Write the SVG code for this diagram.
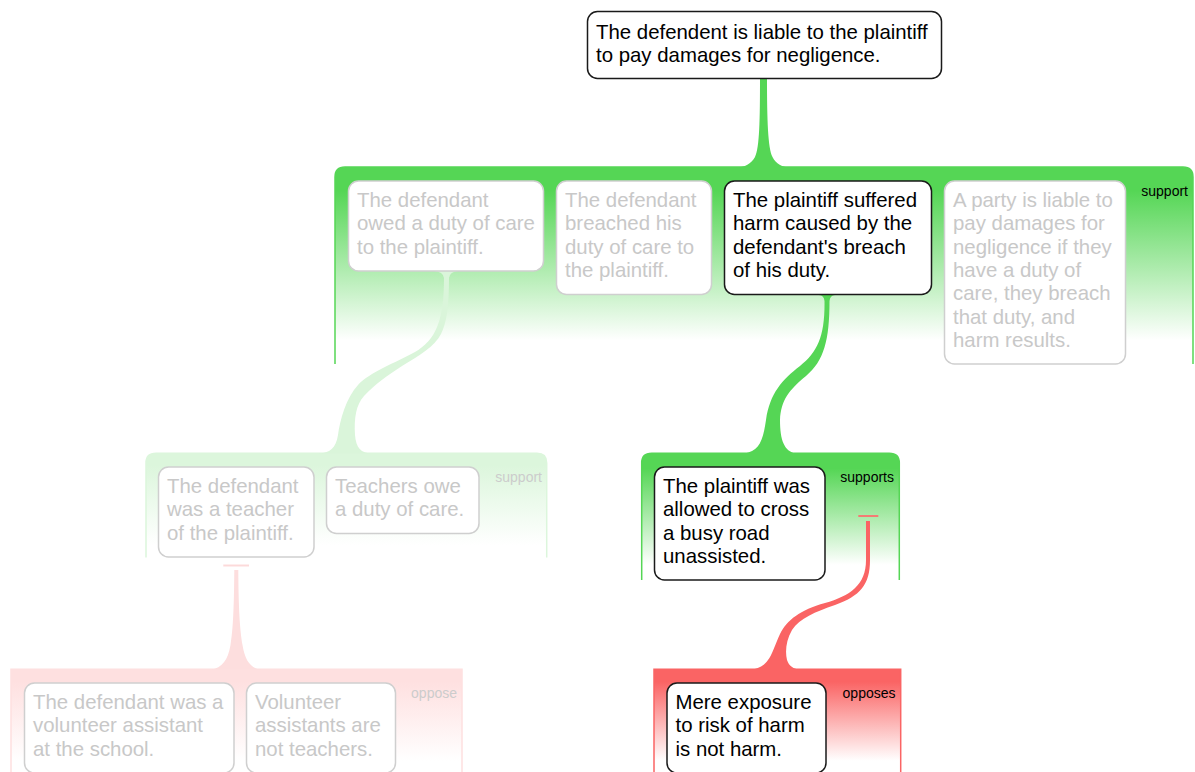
<svg xmlns="http://www.w3.org/2000/svg" width="1195" height="772" viewBox="0 0 1195 772">
<style>
.box{fill:#fff;stroke:#1a1a1a;stroke-width:1.5}
.fbox{fill:#fff;stroke:#cfcfcf;stroke-width:1.5}
.t{font-family:"Liberation Sans",Arial,sans-serif;font-size:20.4px;fill:#000}
.ft{font-family:"Liberation Sans",Arial,sans-serif;font-size:20.4px;fill:#c8c8c8}
.lbl{font-family:"Liberation Sans",Arial,sans-serif;font-size:14px;fill:#000;text-anchor:end}
.flbl{font-family:"Liberation Sans",Arial,sans-serif;font-size:14px;fill:#cccccc;text-anchor:end}
.gside{fill:none;stroke:#55d655;stroke-width:1.5}
.fgside{fill:none;stroke:#dcf6dc;stroke-width:1.5}
.rside{fill:none;stroke:#fa6464;stroke-width:1.5}
.frside{fill:none;stroke:#fee0e0;stroke-width:1.5}
</style>
<defs>
<linearGradient id="gG" x1="0" y1="0" x2="0" y2="1">
<stop offset="0" stop-color="#55d655"/><stop offset="0.12" stop-color="#55d655"/><stop offset="0.88" stop-color="#ffffff"/>
</linearGradient>
<linearGradient id="gGf" x1="0" y1="0" x2="0" y2="1">
<stop offset="0" stop-color="#dcf6dc"/><stop offset="0.12" stop-color="#dcf6dc"/><stop offset="0.88" stop-color="#ffffff"/>
</linearGradient>
<linearGradient id="gR" x1="0" y1="0" x2="0" y2="1">
<stop offset="0" stop-color="#fa6464"/><stop offset="0.12" stop-color="#fa6464"/><stop offset="0.88" stop-color="#ffffff"/>
</linearGradient>
<linearGradient id="gRf" x1="0" y1="0" x2="0" y2="1">
<stop offset="0" stop-color="#fee0e0"/><stop offset="0.12" stop-color="#fee0e0"/><stop offset="0.88" stop-color="#ffffff"/>
</linearGradient>
</defs>
<rect width="1195" height="772" fill="#fff"/>

<g id="bands">
  <g id="band-support-top">
    <path d="M335 364 V177 Q335 167 345 167 H1183 Q1193 167 1193 177 V364 Z" fill="url(#gG)"/>
    <path class="gside" d="M335 364 V177 Q335 167 345 167 H1183 Q1193 167 1193 177 V364"/>
    <text class="lbl" x="1188" y="196">support</text>
  </g>
  <g id="band-support-left">
    <path d="M146 557.5 V463 Q146 453.3 156 453.3 H537 Q546.7 453.3 546.7 463 V557.5 Z" fill="url(#gGf)"/>
    <path class="fgside" d="M146 557.5 V463 Q146 453.3 156 453.3 H537 Q546.7 453.3 546.7 463 V557.5"/>
    <text class="flbl" x="542" y="482">support</text>
  </g>
  <g id="band-supports">
    <path d="M641.7 580 V463 Q641.7 453.3 651.7 453.3 H889.3 Q899.3 453.3 899.3 463 V580 Z" fill="url(#gG)"/>
    <path class="gside" d="M641.7 580 V463 Q641.7 453.3 651.7 453.3 H889.3 Q899.3 453.3 899.3 463 V580"/>
    <text class="lbl" x="894" y="482">supports</text>
  </g>
  <g id="band-oppose">
    <rect x="11" y="669.3" width="451" height="104" fill="url(#gRf)"/>
    <path class="frside" d="M11 773 V669.3 H462 V773"/>
    <text class="flbl" x="457" y="698">oppose</text>
  </g>
  <g id="band-opposes">
    <rect x="654" y="669.3" width="246.7" height="104" fill="url(#gR)"/>
    <path class="rside" d="M654 773 V669.3 H900.7 V773"/>
    <text class="lbl" x="895.5" y="697.5">opposes</text>
  </g>
</g>

<g id="connectors">
  <path id="c-top" fill="#55d655" d="M760 78 C760 120 759.5 148 755 157 C751 164 745 167 736 167.8 L791 167.8 C782 167 776 164 772.5 157 C768 148 767 120 767 78 Z"/>
  <path id="c-n3" fill="#55d655" d="M819 295 Q824 295.5 824.5 301 C825 335 818 352 800 366 C782 380 770 393 766 420 C763 440 760 451 744 453.8 L796 453.8 C784 451 780 440 780 420 C781 400 789 390 806 376 C824 361 829.5 340 829.5 301 Q830 295.5 835 295 Z"/>
  <path id="c-n1" fill="#daf5da" d="M434 271 Q443 271.5 444 278 C444 320 436 340 415 352 C395 363 370 372 358 385 C346 398 340 420 338 435 C336 448 330 453 318 453.8 L372 453.8 C361 453 356 448 355 435 C354 418 356 405 364 396 C374 385 388 375 402 366 C420 355 434 347 441 334 C447 322 449 305 449 278 Q450 271.5 458 271 Z"/>
  <g id="c-nc">
    <line x1="858.3" y1="516" x2="878.3" y2="516" stroke="#f47c74" stroke-width="2"/>
    <path fill="#fa6464" d="M866 521 L866 560 C866 585 850 596 825 603 C800 610 787 620 780 634 C775 645 772 655 768 660 C764 666 758 669 750 669.8 L801 669.8 C793 669 789 666 787 660 C785 652 786 640 792 630 C800 618 815 612 835 605 C860 596 870 585 870 560 L870 521 Z"/>
  </g>
  <g id="c-na">
    <line x1="223.3" y1="565.5" x2="249" y2="565.5" stroke="#fcdada" stroke-width="2"/>
    <path fill="#fddede" d="M234.3 570 C234 610 233 630 230.5 645 C228 660 222 668 211 669.8 L261 669.8 C250 668 245 660 242.5 645 C240 630 238.5 610 238.3 570 Z"/>
  </g>
</g>

<g id="node-top">
  <rect class="box" x="587.5" y="11.5" width="354" height="67" rx="10"/>
  <text class="t" x="596" y="38.5">The defendent is liable to the plaintiff<tspan x="596" dy="23.3">to pay damages for negligence.</tspan></text>
</g>
<g id="node-duty">
  <rect class="fbox" x="348.5" y="181" width="195" height="90" rx="10"/>
  <text class="ft" x="357" y="207">The defendant<tspan x="357" dy="23.3">owed a duty of care</tspan><tspan x="357" dy="23.3">to the plaintiff.</tspan></text>
</g>
<g id="node-breach">
  <rect class="fbox" x="556.5" y="181" width="155" height="113.5" rx="10"/>
  <text class="ft" x="565" y="207">The defendant<tspan x="565" dy="23.3">breached his</tspan><tspan x="565" dy="23.3">duty of care to</tspan><tspan x="565" dy="23.3">the plaintiff.</tspan></text>
</g>
<g id="node-harm">
  <rect class="box" x="724.5" y="181" width="207" height="113.5" rx="10"/>
  <text class="t" x="733" y="207">The plaintiff suffered<tspan x="733" dy="23.3">harm caused by the</tspan><tspan x="733" dy="23.3">defendant's breach</tspan><tspan x="733" dy="23.3">of his duty.</tspan></text>
</g>
<g id="node-rule">
  <rect class="fbox" x="944.5" y="181" width="181" height="183" rx="10"/>
  <text class="ft" x="953" y="207">A party is liable to<tspan x="953" dy="23.3">pay damages for</tspan><tspan x="953" dy="23.3">negligence if they</tspan><tspan x="953" dy="23.3">have a duty of</tspan><tspan x="953" dy="23.3">care, they breach</tspan><tspan x="953" dy="23.3">that duty, and</tspan><tspan x="953" dy="23.3">harm results.</tspan></text>
</g>
<g id="node-teacher">
  <rect class="fbox" x="158.5" y="467" width="155.5" height="90" rx="10"/>
  <text class="ft" x="167" y="493">The defendant<tspan x="167" dy="23.3">was a teacher</tspan><tspan x="167" dy="23.3">of the plaintiff.</tspan></text>
</g>
<g id="node-teachers-owe">
  <rect class="fbox" x="326.5" y="467" width="152.5" height="66.5" rx="10"/>
  <text class="ft" x="335" y="493">Teachers owe<tspan x="335" dy="23.3">a duty of care.</tspan></text>
</g>
<g id="node-cross">
  <rect class="box" x="654.5" y="467" width="170.5" height="113" rx="10"/>
  <text class="t" x="663" y="493">The plaintiff was<tspan x="663" dy="23.3">allowed to cross</tspan><tspan x="663" dy="23.3">a busy road</tspan><tspan x="663" dy="23.3">unassisted.</tspan></text>
</g>
<g id="node-volunteer">
  <rect class="fbox" x="24.5" y="683" width="209.5" height="90" rx="10"/>
  <text class="ft" x="33" y="709">The defendant was a<tspan x="33" dy="23.3">volunteer assistant</tspan><tspan x="33" dy="23.3">at the school.</tspan></text>
</g>
<g id="node-not-teachers">
  <rect class="fbox" x="246.5" y="683" width="149" height="90" rx="10"/>
  <text class="ft" x="255" y="709">Volunteer<tspan x="255" dy="23.3">assistants are</tspan><tspan x="255" dy="23.3">not teachers.</tspan></text>
</g>
<g id="node-exposure">
  <rect class="box" x="667" y="683" width="159" height="90" rx="10"/>
  <text class="t" x="675.5" y="709">Mere exposure<tspan x="675.5" dy="23.3">to risk of harm</tspan><tspan x="675.5" dy="23.3">is not harm.</tspan></text>
</g>
</svg>
